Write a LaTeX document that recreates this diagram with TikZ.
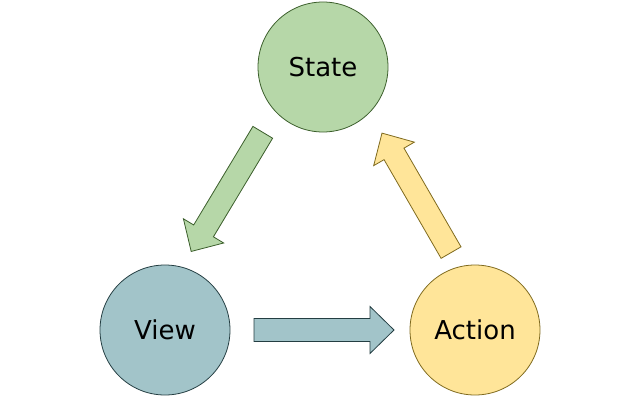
\documentclass[tikz,border=0pt]{standalone}
\usepackage{fontspec}
\setmainfont{DejaVu Sans}
\usepackage{tikz}
\usetikzlibrary{calc}

\definecolor{stfill}{HTML}{B6D7A8}
\definecolor{stline}{HTML}{3B5E2B}
\definecolor{vwfill}{HTML}{A2C4C9}
\definecolor{vwline}{HTML}{243E42}
\definecolor{acfill}{HTML}{FFE599}
\definecolor{acline}{HTML}{7F6A1E}

\tikzset{
  bubble/.style={circle, minimum size=130pt, inner sep=0pt, line width=0.8pt,
    font=\fontsize{26}{30}\selectfont},
}

\begin{document}
\begin{tikzpicture}[x=1pt,y=1pt]
  \useasboundingbox (0,0) rectangle (640,400);

  \node [bubble, draw=stline, fill=stfill] (state)  at (323,333) {State};
  \node [bubble, draw=vwline, fill=vwfill] (view)   at (165,70)  {View};
  \node [bubble, draw=acline, fill=acfill] (action) at (475,70)  {Action};

  % fat arrows round the cycle
  \foreach \a/\b/\s/\e/\off/\c in {state/view/87/226/18/st, view/action/89/229/0/vw, action/state/79/217/18/ac}
  {
    \coordinate (t) at ($ ($(\a)!\s pt!(\b)$)!\off pt!-90:(\b) $);
    \coordinate (p) at ($ ($(\a)!\e pt!(\b)$)!\off pt!-90:(\b) $);
    \coordinate (h) at ($(p)!24pt!(t)$);
    \filldraw [fill=\c fill, draw=\c line, line width=0.8pt, line join=miter]
      ($(t)!11.5pt!90:(p)$) -- ($(h)!11.5pt!-90:(t)$) -- ($(h)!23.5pt!-90:(t)$)
      -- (p) -- ($(h)!23.5pt!90:(t)$) -- ($(h)!11.5pt!90:(t)$)
      -- ($(t)!11.5pt!-90:(p)$) -- cycle;
  }
\end{tikzpicture}
\end{document}
